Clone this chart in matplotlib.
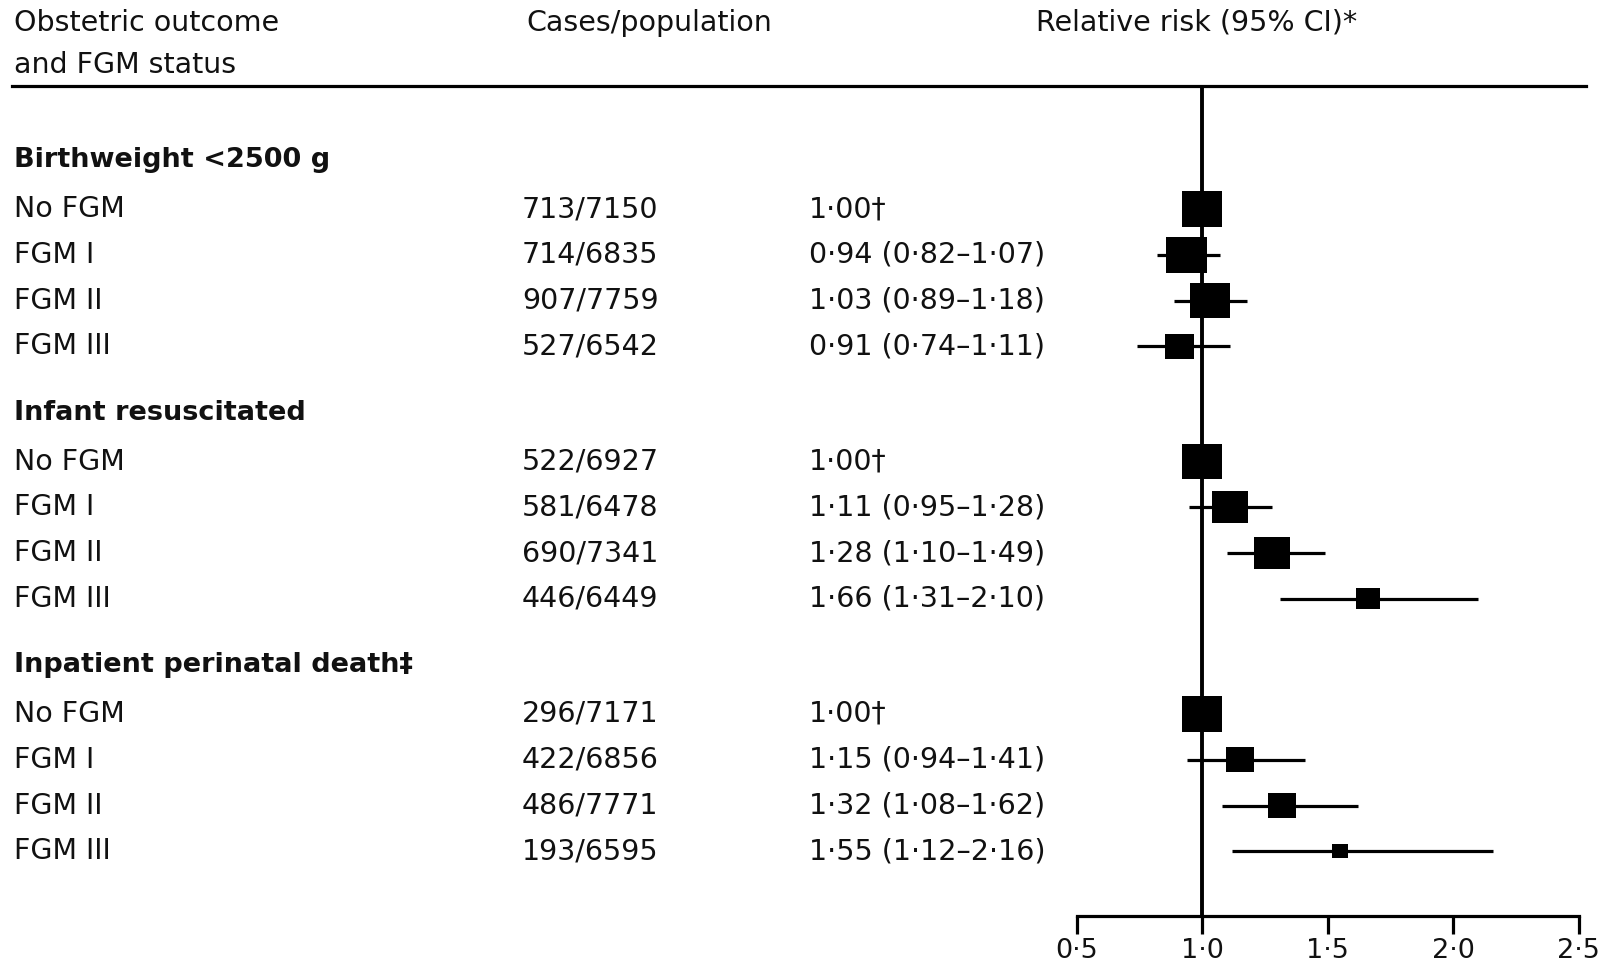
"""
Forest plot: relative risk of obstetric outcomes by FGM status.
"""
import numpy as np
import matplotlib
matplotlib.use("Agg")
import matplotlib.pyplot as plt
from matplotlib.ticker import FuncFormatter

plt.rcParams['font.family'] = ['DejaVu Sans']

# data
outcomes = ["Birthweight <2500 g", "Infant resuscitated", "Inpatient perinatal death\u2021"]
statuses = ["No FGM", "FGM I", "FGM II", "FGM III"]
cases = [[713, 714, 907, 527],
         [522, 581, 690, 446],
         [296, 422, 486, 193]]
population = [[7150, 6835, 7759, 6542],
              [6927, 6478, 7341, 6449],
              [7171, 6856, 7771, 6595]]
rr = [[1.00, 0.94, 1.03, 0.91],
      [1.00, 1.11, 1.28, 1.66],
      [1.00, 1.15, 1.32, 1.55]]
ci_low = [[np.nan, 0.82, 0.89, 0.74],
          [np.nan, 0.95, 1.10, 1.31],
          [np.nan, 0.94, 1.08, 1.12]]
ci_high = [[np.nan, 1.07, 1.18, 1.11],
           [np.nan, 1.28, 1.49, 2.10],
           [np.nan, 1.41, 1.62, 2.16]]
x_ticks = [0.5, 1.0, 1.5, 2.0, 2.5]

# box widths in pixels (study weight)
box_px = [[40, 41, 40, 29],
          [40, 36, 36, 24],
          [40, 28, 28, 16]]

W, H = 1606, 968
PX_PER_UNIT = 251.0
X_ONE = 1202          # pixel of RR = 1.0
FS = 20.5
FS_HEAD = 19.5
INK = '#111111'


def dot(v, nd=2):
    return f"{v:.{nd}f}".replace('.', '\u00b7')


fig = plt.figure(figsize=(W / 100, H / 100), dpi=100)
ax = fig.add_axes([0, 0, 1, 1])
ax.set_xlim(1 - X_ONE / PX_PER_UNIT, 1 + (W - X_ONE) / PX_PER_UNIT)
ax.set_ylim(H, 0)
tx = ax.get_yaxis_transform()   # x in axes fraction, y in data


def col(px):
    return px / W


# header
ax.text(col(14), 23, "Obstetric outcome", transform=tx, fontsize=FS, color=INK, va='center')
ax.text(col(14), 65, "and FGM status", transform=tx, fontsize=FS, color=INK, va='center')
ax.text(col(526), 23, "Cases/population", transform=tx, fontsize=FS, color=INK, va='center')
ax.text(col(1036), 23, "Relative risk (95% CI)*", transform=tx, fontsize=FS, color=INK, va='center')
ax.axhline(86, xmin=col(12), xmax=col(1586), color='black', lw=2.3)

# rows
rect = [(-1, -0.88), (1, -0.88), (1, 0.88), (-1, 0.88), (-1, -0.88)]
for g, outcome in enumerate(outcomes):
    y_head = 160 + g * 252.5
    ax.text(col(14), y_head, outcome, transform=tx, fontsize=FS_HEAD, color=INK,
            va='center', fontweight='bold')
    ys = y_head + 49 + np.arange(len(statuses)) * 45.8
    for i, status in enumerate(statuses):
        y = ys[i]
        ax.text(col(14), y, status, transform=tx, fontsize=FS, color=INK, va='center')
        ax.text(col(522), y, f"{cases[g][i]}/{population[g][i]}", transform=tx,
                fontsize=FS, color=INK, va='center')
        if np.isnan(ci_low[g][i]):
            label = f"{dot(rr[g][i])}\u2020"
        else:
            label = f"{dot(rr[g][i])} ({dot(ci_low[g][i])}\u2013{dot(ci_high[g][i])})"
        ax.text(col(809), y, label, transform=tx, fontsize=FS, color=INK, va='center')
    ax.hlines(ys, ci_low[g], ci_high[g], color='black', lw=2.3, zorder=3)
    sizes = (np.array(box_px[g]) * 0.72) ** 2
    ax.scatter(rr[g], ys, s=sizes, marker=rect, color='black', linewidths=0, zorder=4)

# reference line and x axis
ax.vlines(1.0, 86, 916, color='black', lw=2.8, zorder=2)
for side in ['left', 'right', 'top']:
    ax.spines[side].set_visible(False)
ax.spines['bottom'].set_position(('data', 916))
ax.spines['bottom'].set_bounds(x_ticks[0], x_ticks[-1])
ax.spines['bottom'].set_linewidth(2.3)
ax.set_yticks([])
ax.set_xticks(x_ticks)
ax.xaxis.set_major_formatter(FuncFormatter(lambda v, p: dot(v, 1)))
ax.tick_params(axis='x', direction='out', length=13, width=2.3, pad=3,
               labelsize=FS_HEAD, labelcolor=INK)
ax.patch.set_alpha(0)

fig.savefig("out.png", dpi=100)
